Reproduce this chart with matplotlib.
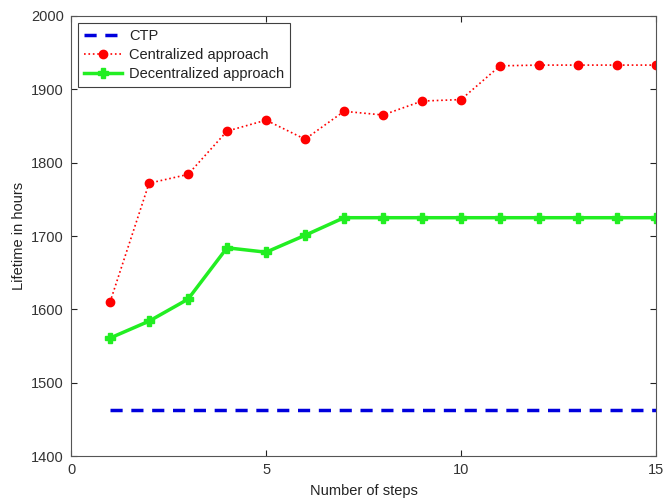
import matplotlib

matplotlib.use("Agg")
import matplotlib.pyplot as plt

plt.rcParams["font.family"] = ["Liberation Sans", "DejaVu Sans"]
plt.rcParams["font.size"] = 10.5

steps = list(range(1, 16))
ctp = [1463] * 15
centralized = [1610, 1772, 1784, 1843, 1858, 1832, 1870, 1865, 1884, 1886,
               1932, 1933, 1933, 1933, 1933]
decentralized = [1561, 1584, 1614, 1684, 1678, 1701, 1725, 1725, 1725, 1725,
                 1725, 1725, 1725, 1725, 1725]

fig = plt.figure(figsize=(6.64, 4.98), dpi=100)
ax = fig.add_axes([0.107, 0.084, 0.881, 0.884])

ax.plot(steps, ctp, color="#0000dd", linestyle=(0, (3.5, 2.5)), linewidth=2.5,
        label="CTP")
ax.plot(steps, centralized, color="red", linestyle=":", linewidth=1.2,
        marker="o", markersize=6, label="Centralized approach")
ax.plot(steps, decentralized, color="#22ee22", linestyle="-", linewidth=2.5,
        marker="P", markersize=6.5, label="Decentralized approach")

ax.set_xlim(0, 15)
ax.set_ylim(1400, 2000)
ax.set_xticks([0, 5, 10, 15])
ax.set_yticks(range(1400, 2001, 100))
ax.tick_params(direction="in", top=True, right=True, length=4, pad=5,
               labelcolor="#333333", color="#222222")
for spine in ax.spines.values():
    spine.set_color("#555555")
ax.set_xlabel("Number of steps", labelpad=5, color="#222222")
ax.set_ylabel("Lifetime in hours", labelpad=4, color="#222222")

leg = ax.legend(loc="upper left", fancybox=False, edgecolor="#404040",
                framealpha=1, handlelength=2.6, borderaxespad=0.5,
                labelspacing=0.33, handletextpad=0.5)
leg.get_frame().set_linewidth(0.8)
for text in leg.get_texts():
    text.set_color("#222222")

fig.savefig("out.png", dpi=100)
